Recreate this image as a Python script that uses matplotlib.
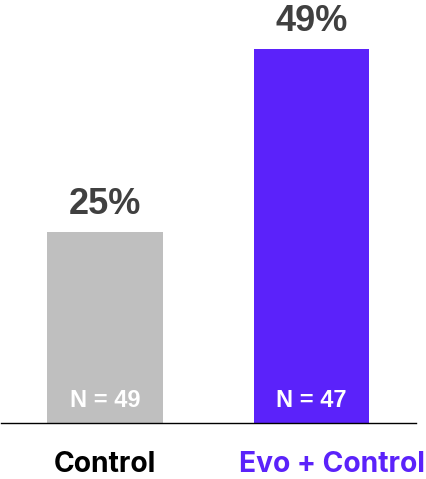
import matplotlib.pyplot as plt

# Share of participants per group
groups = ["Control", "Evo + Control"]
shares = [25, 49]
sample_sizes = [49, 47]

bar_colors = ["#bfbfbf", "#5b22fa"]
label_colors = ["#000000", "#5b22fa"]
label_shift_pt = [0, 14.5]  # the long label sits a bit to the right

fig = plt.figure(figsize=(4.26, 4.79), dpi=100)
W, H = 426, 479
# axes spans from the left edge to the baseline end, bottom at the baseline
ax = fig.add_axes([1 / W, (H - 423) / H, 415 / W, 423 / H])

x = list(range(len(groups)))
ax.bar(x, shares, width=0.56, color=bar_colors)

ax.set_xlim(-0.504, 1.506)
ax.set_ylim(0, 55.4)

for xi, val, n in zip(x, shares, sample_sizes):
    ax.annotate(f"{val}%", (xi, val), xytext=(0, 13), textcoords="offset points",
                ha="center", va="baseline", fontsize=26, fontweight="bold",
                color="#404040", family="Liberation Sans")
    ax.annotate(f"N = {n}", (xi, 0), xytext=(0, 16), textcoords="offset points",
                ha="center", va="center", fontsize=17, fontweight="bold",
                color="white", family="Liberation Sans")

# category names under the baseline
for xi, name, c, dx in zip(x, groups, label_colors, label_shift_pt):
    ax.annotate(name, (xi, 0), xytext=(dx, -20), textcoords="offset points",
                ha="center", va="top", fontsize=20.3, fontweight="bold",
                color=c, family="Inter", annotation_clip=False)

ax.set_xticks([])
ax.set_yticks([])

for side in ["top", "left", "right"]:
    ax.spines[side].set_visible(False)
ax.spines["bottom"].set_linewidth(1.0)
ax.spines["bottom"].set_color("black")

fig.savefig("out.png", dpi=100)
